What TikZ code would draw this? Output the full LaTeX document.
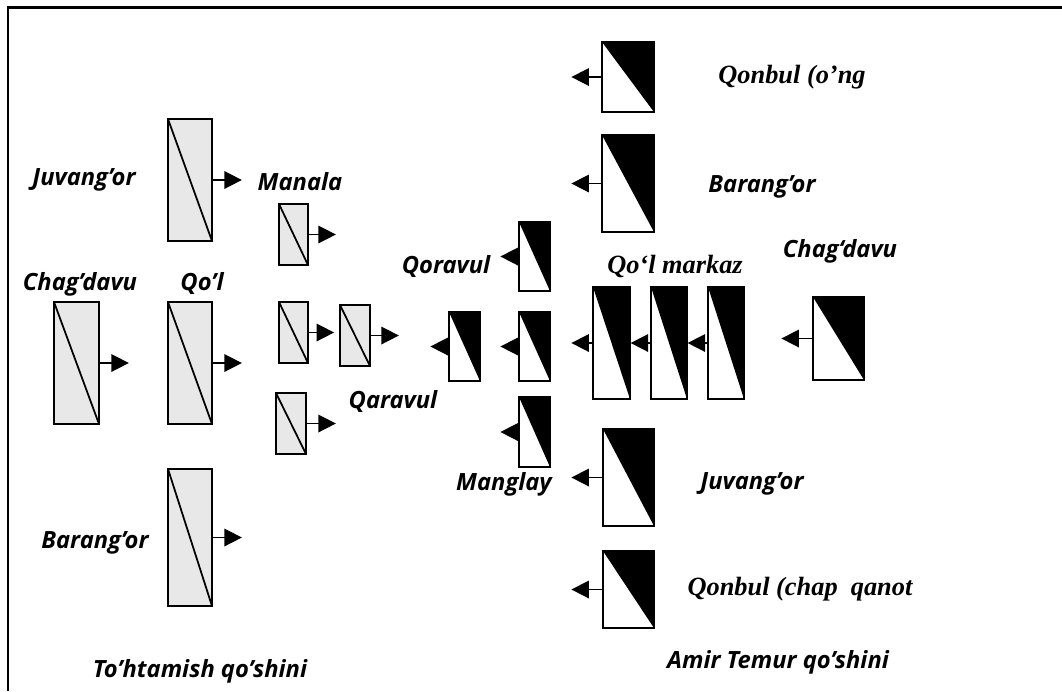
\documentclass[tikz,border=0pt]{standalone}
\usepackage{fontspec}
\newfontfamily\sansbi{Open Sans}
\newfontfamily\serifbi{Liberation Serif}
\usetikzlibrary{arrows.meta}

\tikzset{
  gbox/.style 2 args={draw, line width=1pt, fill=gray!18, inner sep=0pt,
    minimum width=#1*0.02cm, minimum height=#2*0.02cm,
    path picture={\draw[line width=1pt] (path picture bounding box.north west) -- (path picture bounding box.south east);}},
  bbox/.style 2 args={draw, line width=0.7pt, fill=white, inner sep=0pt,
    minimum width=#1*0.02cm, minimum height=#2*0.02cm,
    path picture={\fill[black] (path picture bounding box.north west) -- (path picture bounding box.north east) -- (path picture bounding box.south east) -- cycle;}},
  lab/.style={font=\sansbi\bfseries\itshape\fontsize{13.5}{15}\selectfont, anchor=base, inner sep=0pt},
  tlab/.style={font=\serifbi\bfseries\itshape\fontsize{15}{17}\selectfont, anchor=base, inner sep=0pt},
  arr/.style={-{Triangle[length=10pt,width=10pt]}, line width=0.9pt},
}

\begin{document}
\begin{tikzpicture}[x=0.02cm, y=-0.02cm]
\useasboundingbox (0,0) rectangle (1062,691);
\draw [line width=1.7pt] (8,691) -- (8,7) -- (1062,7);

% To'htamish side
\node [gbox={44}{122}] (gjuv)  at (190,180) {};
\node [gbox={29}{61}]  (gman)  at (293.5,234.5) {};
\node [gbox={45}{122}] (gchag) at (76.5,363) {};
\node [gbox={44}{122}] (gqol)  at (190,363) {};
\node [gbox={29}{61}]  (gs1)   at (293.5,332.5) {};
\node [gbox={30}{61}]  (gs2)   at (355,335.5) {};
\node [gbox={30}{61}]  (gs3)   at (291,423.5) {};
\node [gbox={44}{137}] (gbar)  at (190,537.5) {};

\draw [arr] (gjuv.east)  -- ++(29,0) coordinate (gjuvh);
\draw [arr] (gman.east)  -- ++(27,0) coordinate (gmanh);
\draw [arr] (gchag.east) -- ++(29,0) coordinate (gchagh);
\draw [arr] (gqol.east)  -- ++(29,0) coordinate (gqolh);
\draw [arr, shorten >=5*0.02cm] (gs1.east) -- (gs2.west |- gs1.east);
\draw [arr] (gs2.east)   -- ++(28,0) coordinate (gs2h);
\draw [arr] (gs3.east)   -- ++(29,0) coordinate (gs3h);
\draw [arr] (gbar.east)  -- ++(29,0) coordinate (gbarh);

\node [lab] (ljuv)  at (84,185)  {Juvang’or};
\node [lab] (lman)  at (300,190) {Manala};
\node [lab] (lchag) at (80,290)  {Chag’davu};
\node [lab] (lqol)  at (202,290) {Qo’l};
\node [lab] (lqar)  at (393,408) {Qaravul};
\node [lab] (lbar)  at (95,548)  {Barang’or};
\node [lab] (ltoh)  at (200,677) {To’htamish qo’shini};

% Amir Temur side
\node [bbox={52}{70}]  (bqon)  at (628,77) {};
\node [bbox={52}{97}]  (bbar)  at (628,183.5) {};
\node [bbox={31}{69}]  (bqor)  at (534.5,256.5) {};
\node [bbox={31}{69}]  (bqar)  at (464.5,346.5) {};
\node [bbox={31}{69}]  (bmid)  at (534.5,346.5) {};
\node [bbox={31}{70}]  (bman)  at (534.5,432) {};
\node [bbox={37}{112}] (bm1)   at (611.5,343) {};
\node [bbox={36}{112}] (bm2)   at (669,343) {};
\node [bbox={36}{112}] (bm3)   at (726,343) {};
\node [bbox={51}{83}]  (bchag) at (838.5,338.5) {};
\node [bbox={51}{97}]  (bjuv)  at (628.5,477.5) {};
\node [bbox={51}{77}]  (bqch)  at (628.5,589.5) {};

\draw [arr] (bqon.west)  -- ++(-30,0) coordinate (bqonh);
\draw [arr] (bbar.west)  -- ++(-30,0) coordinate (bbarh);
\draw [arr] (bqor.west)  -- ++(-18,0) coordinate (bqorh);
\draw [arr] (bqar.west)  -- ++(-18,0) coordinate (bqarh);
\draw [arr] (bmid.west)  -- ++(-18,0) coordinate (bmidh);
\draw [arr] (bman.west)  -- ++(-18,0) coordinate (bmanh);
\draw [arr] (bm1.west)   -- ++(-21,0) coordinate (bm1h);
\draw [arr] (bm2.west)   -- (bm1.east);
\draw [arr] (bm3.west)   -- (bm2.east);
\draw [arr] (bchag.west) -- ++(-31,0) coordinate (bchagh);
\draw [arr] (bjuv.west)  -- ++(-31,0) coordinate (bjuvh);
\draw [arr] (bqch.west)  -- ++(-31,0) coordinate (bqchh);

\node [tlab] (rqon)  at (792,83)  {Qonbul (o’ng};
\node [lab]  (rbar)  at (762,192) {Barang’or};
\node [lab]  (rqor)  at (446,273) {Qoravul};
\node [tlab] (rqol)  at (675,273) {Qo‘l markaz};
\node [lab]  (rchag) at (840,257) {Chag‘davu};
\node [lab]  (rman)  at (504,490) {Manglay};
\node [lab]  (rjuv)  at (752,489) {Juvang’or};
\node [tlab] (rqch)  at (800,595) {Qonbul (chap~~qanot};
\node [lab]  (ramir) at (778,668) {Amir Temur qo’shini};
\end{tikzpicture}
\end{document}
